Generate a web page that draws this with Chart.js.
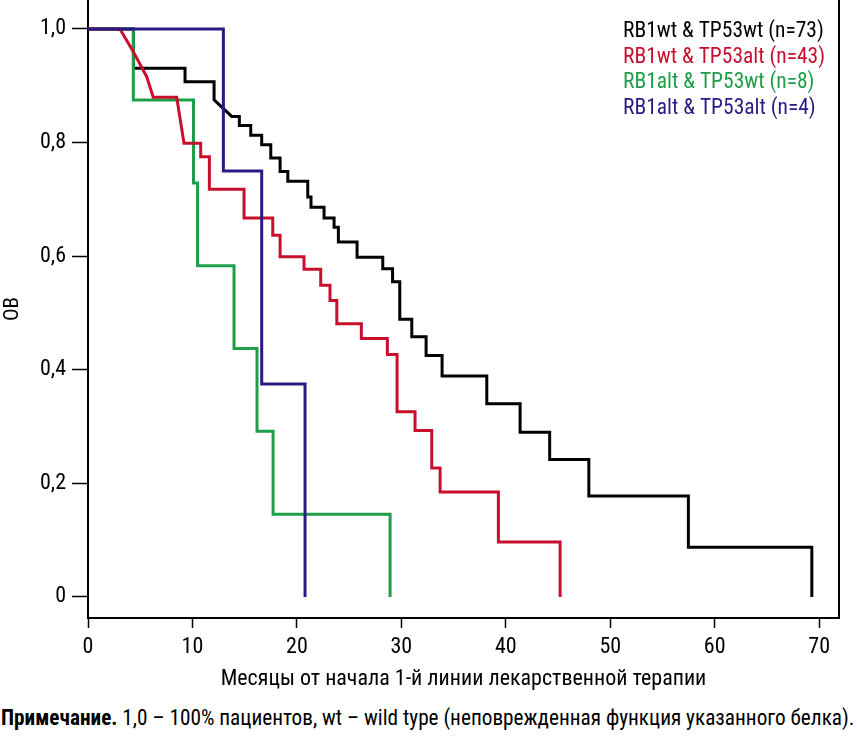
<!DOCTYPE html>
<html><head><meta charset="utf-8">
<script src="https://cdn.jsdelivr.net/npm/chart.js@4"></script>
<style>
html,body{margin:0;padding:0;background:#fff;}
#wrap{position:relative;width:857px;height:700px;}
#note{position:absolute;left:1px;top:705px;font-family:'Roboto Condensed',Roboto,sans-serif;font-size:20px;white-space:nowrap;color:#000;}
#note b{font-weight:700;}
</style></head><body>
<div id="wrap"><canvas id="c" width="857" height="700"></canvas></div>
<div id="note"><b>Примечание.</b> 1,0 – 100% пациентов, wt – wild type (неповрежденная функция указанного белка).</div>
<script>
const FONT = "'Roboto Condensed', Roboto, sans-serif";
const xTicks = [0,10,20,30,40,50,60,70];
const yTicks = [0,0.2,0.4,0.6,0.8,1.0];
const xTitle = 'Месяцы от начала 1-й линии лекарственной терапии';
const yTitle = 'ОВ';
const seriesLabels = ['RB1wt & TP53wt (n=73)','RB1wt & TP53alt (n=43)','RB1alt & TP53wt (n=8)','RB1alt & TP53alt (n=4)'];
const seriesColors = ['#000000','#c8102e','#1e9e48','#2c1a84'];

// Curve vertices (months, survival fraction)
const wtwtT = [0,4.35,4.35,9.29,9.29,12.07,12.07,13.76,14.49,14.49,15.58,15.58,16.63,16.63,17.50,17.50,18.39,18.39,19.13,19.13,21.04,21.04,21.35,21.35,22.60,22.60,23.56,23.56,23.97,23.97,25.76,25.76,28.22,28.22,29.16,29.16,29.85,29.85,31.00,31.00,32.37,32.37,33.90,33.90,38.18,38.18,41.37,41.37,44.20,44.20,47.95,47.95,57.48,57.48,69.30,69.30];
const wtwtS = [1,1,0.931,0.931,0.907,0.907,0.875,0.846,0.846,0.830,0.830,0.813,0.813,0.796,0.796,0.773,0.773,0.749,0.749,0.732,0.732,0.704,0.704,0.686,0.686,0.667,0.667,0.651,0.651,0.625,0.625,0.598,0.598,0.578,0.578,0.555,0.555,0.489,0.489,0.458,0.458,0.425,0.425,0.389,0.389,0.340,0.340,0.290,0.290,0.242,0.242,0.178,0.178,0.0875,0.0875,0];

const wtaltT = [0,3.06,4.34,5.62,6.25,8.49,9.19,10.79,10.79,11.62,11.62,14.94,14.94,17.69,17.69,18.39,18.39,20.68,20.68,22.28,22.28,23.17,23.17,23.82,23.82,26.17,26.17,28.66,28.66,29.59,29.59,31.31,31.31,32.91,32.91,33.71,33.71,39.29,39.29,45.20,45.20];
const wtaltS = [1,1,0.960,0.916,0.880,0.880,0.799,0.799,0.775,0.775,0.718,0.718,0.667,0.667,0.637,0.637,0.599,0.599,0.577,0.577,0.549,0.549,0.522,0.522,0.481,0.481,0.455,0.455,0.427,0.427,0.326,0.326,0.293,0.293,0.227,0.227,0.185,0.185,0.097,0.097,0];

const altwtT = [0,4.34,4.34,10.10,10.10,10.49,10.49,13.98,13.98,16.18,16.18,17.72,17.72,28.92,28.92];
const altwtS = [1,1,0.875,0.875,0.729,0.729,0.583,0.583,0.4375,0.4375,0.2917,0.2917,0.1458,0.1458,0];

const altaltT = [0,12.96,12.96,16.63,16.63,20.78,20.78];
const altaltS = [1,1,0.75,0.75,0.375,0.375,0];

const curvesT = [wtwtT, wtaltT, altwtT, altaltT];
const curvesS = [wtwtS, wtaltS, altwtS, altaltS];
const drawOrder = [4,2,3,1];

function pts(t,s){ return t.map((v,i)=>({x:v,y:s[i]})); }

const legendText = {
  id:'legendText',
  afterDraw(chart){
    const ctx = chart.ctx;
    ctx.save();
    ctx.font = '21.5px ' + FONT;
    ctx.textBaseline = 'middle';
    ctx.textAlign = 'left';
    chart.data.datasets.forEach((d,i)=>{
      ctx.fillStyle = d.borderColor;
      ctx.fillText(d.label, 623, 32 + i*25.5);
    });
    ctx.restore();
  }
};
const frameRight = {
  id:'frameRight',
  afterDraw(chart){
    const {ctx, chartArea} = chart;
    ctx.save();
    ctx.strokeStyle = '#000';
    ctx.lineWidth = 2;
    ctx.beginPath();
    ctx.moveTo(chartArea.right, 0);
    ctx.lineTo(chartArea.right, chartArea.bottom + 1);
    ctx.stroke();
    ctx.restore();
  }
};

new Chart(document.getElementById('c'), {
  type:'line',
  data:{
    datasets: seriesLabels.map((lab,i)=>({
      label: lab,
      data: pts(curvesT[i], curvesS[i]),
      borderColor: seriesColors[i],
      backgroundColor: seriesColors[i],
      borderWidth: 3,
      pointRadius: 0,
      tension: 0,
      fill: false,
      borderJoinStyle: 'miter',
      borderCapStyle: 'butt',
      order: drawOrder[i]
    }))
  },
  options:{
    responsive:false,
    animation:false,
    devicePixelRatio:1,
    layout:{padding:{left:0,right:18,top:0,bottom:0}},
    plugins:{legend:{display:false}, tooltip:{enabled:false}},
    scales:{
      x:{
        type:'linear', min:0, max:71.9,
        afterBuildTicks(s){ s.ticks = xTicks.map(v=>({value:v})); },
        afterFit(s){ s.height = 82; s.paddingLeft = 0; s.paddingRight = 0; },
        grid:{display:true, drawOnChartArea:false, drawTicks:true, tickLength:10, tickColor:'#000', tickWidth:1.5},
        border:{display:true, color:'#000', width:2},
        ticks:{color:'#000', font:{family:FONT, size:22}, padding:6, maxRotation:0, autoSkip:false},
        title:{display:true, text:xTitle, color:'#000', font:{family:FONT, size:22}, padding:{top:0,bottom:7}}
      },
      y:{
        type:'linear', min:-0.037, max:1.051,
        afterBuildTicks(s){ s.ticks = yTicks.map(v=>({value:v})); },
        afterFit(s){ s.width = 88; s.paddingTop = 0; s.paddingBottom = 0; },
        grid:{display:true, drawOnChartArea:false, drawTicks:true, tickLength:16, tickColor:'#000', tickWidth:1.5},
        border:{display:true, color:'#000', width:2},
        ticks:{color:'#000', font:{family:FONT, size:22}, padding:6, autoSkip:false,
          callback:(v)=> v===0 ? '0' : v.toFixed(1).replace('.',',')},
        title:{display:true, text:yTitle, color:'#000', font:{family:FONT, size:21}, padding:{top:0,bottom:0}}
      }
    }
  },
  plugins:[legendText, frameRight]
});

// fit note to full width as in the reference
const note = document.getElementById('note');
const w = note.offsetWidth;
if (w > 0) note.style.fontSize = (20 * 853 / w).toFixed(2) + 'px';
</script>
</body></html>
